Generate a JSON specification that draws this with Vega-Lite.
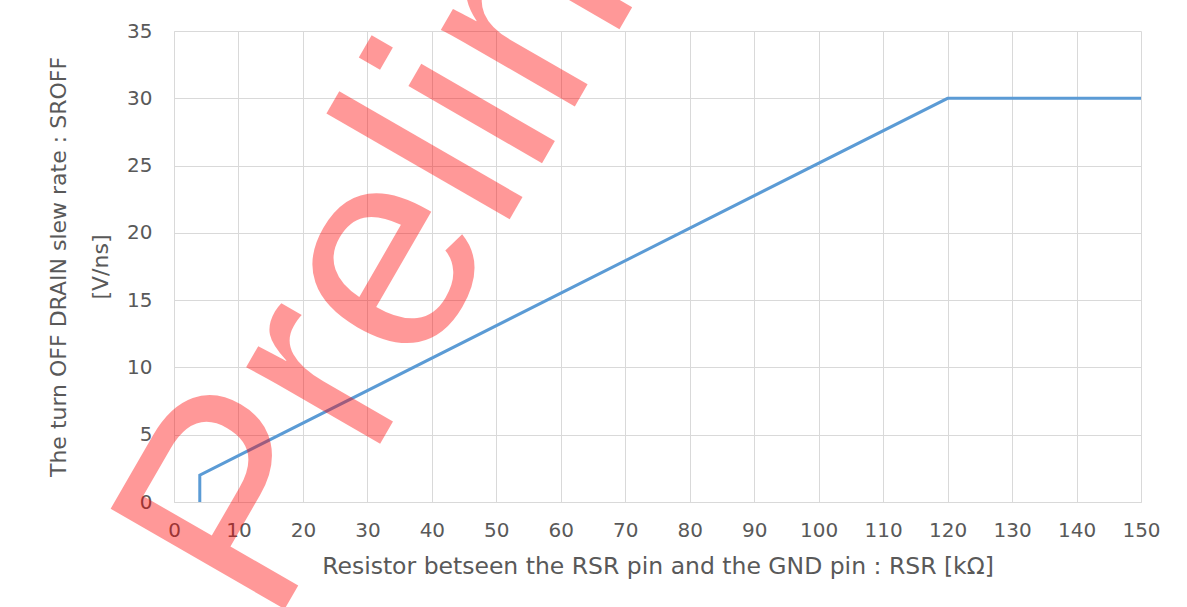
{
  "$schema": "https://vega.github.io/schema/vega-lite/v6.json",
  "width": 967,
  "height": 471,
  "autosize": {"type": "none"},
  "padding": {"left": 174, "top": 31, "right": 46, "bottom": 105},
  "background": "white",
  "config": {"view": {"stroke": null}, "font": "DejaVu Sans"},
  "datasets": {
    "curve": [
      {"i": 1, "r": 4, "sr": 0},
      {"i": 2, "r": 4, "sr": 2},
      {"i": 3, "r": 120, "sr": 30},
      {"i": 4, "r": 150, "sr": 30}
    ],
    "stamp": [
      {"label": "Preliminary", "r": 15.3, "sr": -9.5}
    ]
  },
  "encoding": {
    "x": {
      "field": "r",
      "type": "quantitative",
      "scale": {"domain": [0, 150], "nice": false, "zero": false},
      "axis": {
        "title": "Resistor betseen the RSR pin and the GND pin : RSR [kΩ]",
        "values": [0, 10, 20, 30, 40, 50, 60, 70, 80, 90, 100, 110, 120, 130, 140, 150],
        "grid": true,
        "gridColor": "#d9d9d9",
        "gridWidth": 1,
        "domainColor": "#d9d9d9",
        "domainWidth": 1,
        "ticks": false,
        "tickSize": 0,
        "labelFont": "DejaVu Sans",
        "labelFontSize": 20,
        "labelColor": "#595959",
        "labelPadding": 18,
        "labelFlush": false,
        "labelOverlap": false,
        "titleFont": "DejaVu Sans",
        "titleFontSize": 23.5,
        "titleFontWeight": "normal",
        "titleColor": "#595959",
        "titlePadding": 14
      }
    },
    "y": {
      "field": "sr",
      "type": "quantitative",
      "scale": {"domain": [0, 35], "nice": false, "zero": false},
      "axis": {
        "title": ["The turn OFF DRAIN slew rate : SROFF", "[V/ns]"],
        "values": [0, 5, 10, 15, 20, 25, 30, 35],
        "grid": true,
        "gridColor": "#d9d9d9",
        "gridWidth": 1,
        "domainColor": "#d9d9d9",
        "domainWidth": 1,
        "ticks": false,
        "tickSize": 0,
        "labelFont": "DejaVu Sans",
        "labelFontSize": 20,
        "labelColor": "#595959",
        "labelPadding": 22,
        "labelFlush": false,
        "labelOverlap": false,
        "titleFont": "DejaVu Sans",
        "titleFontSize": 22,
        "titleFontWeight": "normal",
        "titleColor": "#595959",
        "titleLineHeight": 42,
        "titlePadding": 14
      }
    }
  },
  "layer": [
    {
      "data": {"name": "curve"},
      "mark": {"type": "line", "color": "#5B9BD5", "strokeWidth": 3},
      "encoding": {"order": {"field": "i", "type": "quantitative"}}
    },
    {
      "data": {"name": "stamp"},
      "mark": {
        "type": "text",
        "font": "Liberation Sans",
        "fontSize": 292,
        "angle": 300,
        "align": "left",
        "baseline": "alphabetic",
        "color": "#ff0000",
        "opacity": 0.4
      },
      "encoding": {"text": {"field": "label"}}
    }
  ]
}
